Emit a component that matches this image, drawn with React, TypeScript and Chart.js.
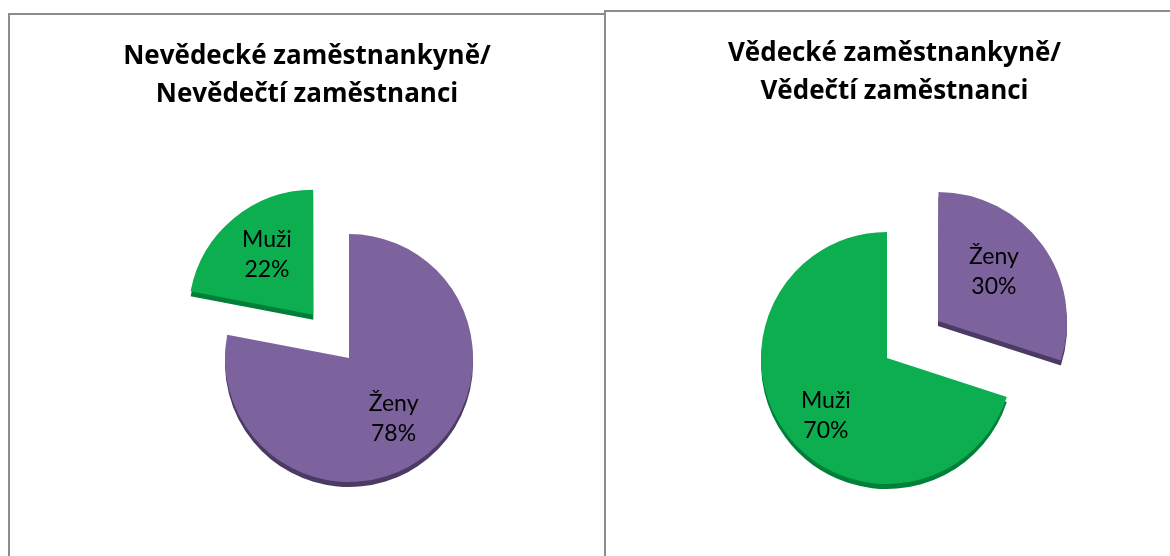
import React, { useEffect, useRef } from 'react';
import { Chart, registerables } from 'chart.js';

Chart.register(...registerables);

// ---------- data ----------
const leftTitle = ['Nevědecké zaměstnankyně/', 'Nevědečtí zaměstnanci'];
const leftCategories = ['Ženy', 'Muži'];
const leftValues = [78, 22];

const rightTitle = ['Vědecké zaměstnankyně/', 'Vědečtí zaměstnanci'];
const rightCategories = ['Ženy', 'Muži'];
const rightValues = [30, 70];

// ---------- style ----------
const TITLE_FONT = '"Open Sans", Lato, sans-serif';
const LABEL_FONT = 'Lato, "Open Sans", sans-serif';
const PURPLE = '#7D639D';
const GREEN = '#0CAE50';
const PURPLE_SIDE = '#4B3B64';
const GREEN_SIDE = '#007F38';
const BORDER = '#8C8C8C';

type Panel = {
  title: string[];
  categories: string[];
  values: number[];
  colors: string[];
  sideColors: string[];
  offsets: number[];
  labelRadii: number[];
  labelTurns: number[];
  box: { left: number; top: number };
  canvas: { left: number; top: number; width: number; height: number };
  cx: number;
  cy: number;
  r: number;
};

// Chart.js moves an exploded arc by offset / 4 pixels
const panels: Panel[] = [
  {
    title: leftTitle,
    categories: leftCategories,
    values: leftValues,
    colors: [PURPLE, GREEN],
    sideColors: [PURPLE_SIDE, GREEN_SIDE],
    offsets: [0, 224],
    labelRadii: [0.606, 0.616],
    labelTurns: [3.2, 1.3],
    box: { left: 8, top: 13 },
    canvas: { left: 10, top: 15, width: 594, height: 541 },
    cx: 339,
    cy: 343,
    r: 124,
  },
  {
    title: rightTitle,
    categories: rightCategories,
    values: rightValues,
    colors: [PURPLE, GREEN],
    sideColors: [PURPLE_SIDE, GREEN_SIDE],
    offsets: [252, 0],
    labelRadii: [0.59, 0.664],
    labelTurns: [-2.9, -7.1],
    box: { left: 604, top: 10 },
    canvas: { left: 606, top: 12, width: 577, height: 544 },
    cx: 281,
    cy: 346,
    r: 126,
  },
];

// centre the pie at (cx, cy); keep the area large enough for the offsets
const fixedAreaPlugin = {
  id: 'fixedArea',
  afterLayout(chart: any, _args: any, opts: any) {
    const { cx, cy } = opts;
    const half = 300;
    chart.chartArea = {
      left: cx - half,
      right: cx + half,
      top: cy - half,
      bottom: cy + half,
      width: 2 * half,
      height: 2 * half,
    };
  },
};

const pieSidePlugin = {
  id: 'pieSide',
  beforeDatasetsDraw(chart: any, _args: any, opts: any) {
    const ctx = chart.ctx;
    const meta = chart.getDatasetMeta(0);
    meta.data.forEach((arc: any, i: number) => {
      const ghost = Object.create(arc);
      ghost.options = {
        ...arc.options,
        backgroundColor: opts.colors[i],
        borderColor: opts.colors[i],
      };
      ctx.save();
      ctx.translate(0, opts.depth);
      ghost.draw(ctx);
      ctx.restore();
    });
  },
};

const sliceLabelPlugin = {
  id: 'sliceLabels',
  afterDatasetsDraw(chart: any, _args: any, opts: any) {
    const ctx = chart.ctx;
    const meta = chart.getDatasetMeta(0);
    const values: number[] = chart.data.datasets[0].data;
    const total = values.reduce((a, b) => a + b, 0);
    const labels: string[] = chart.data.labels;
    meta.data.forEach((arc: any, i: number) => {
      const { x, y, startAngle, endAngle, outerRadius } = arc.getProps(
        ['x', 'y', 'startAngle', 'endAngle', 'outerRadius'],
        true
      );
      const mid = (startAngle + endAngle) / 2 + (opts.turns[i] * Math.PI) / 180;
      const off = (arc.options.offset || 0) / 4;
      const d = off + opts.radii[i] * outerRadius;
      const px = x + Math.cos(mid) * d;
      const py = y + Math.sin(mid) * d;
      const pct = Math.round((values[i] / total) * 100) + '%';
      ctx.save();
      ctx.font = `${opts.size}px ${LABEL_FONT}`;
      ctx.fillStyle = '#000';
      ctx.textAlign = 'center';
      ctx.textBaseline = 'middle';
      ctx.fillText(labels[i], px, py - opts.lineHeight / 2);
      ctx.fillText(pct, px, py + opts.lineHeight / 2);
      ctx.restore();
    });
  },
};

function PieChart({ p }: { p: Panel }) {
  const ref = useRef<HTMLCanvasElement | null>(null);
  useEffect(() => {
    if (!ref.current) return;
    const chart = new Chart(ref.current, {
      type: 'pie',
      data: {
        labels: p.categories,
        datasets: [
          {
            data: p.values,
            backgroundColor: p.colors,
            borderWidth: 0,
            offset: p.offsets,
          } as any,
        ],
      },
      options: {
        responsive: false,
        animation: false,
        devicePixelRatio: 1,
        radius: p.r,
        layout: { padding: 0 },
        events: [],
        plugins: {
          legend: { display: false },
          tooltip: { enabled: false },
          title: {
            display: true,
            text: p.title,
            color: '#000',
            font: { family: TITLE_FONT, size: 26, weight: 'bold', lineHeight: 1.48 },
            padding: { top: 22, bottom: 10 },
          },
          fixedArea: { cx: p.cx, cy: p.cy },
          pieSide: { colors: p.sideColors, depth: 5 },
          sliceLabels: { radii: p.labelRadii, turns: p.labelTurns, size: 23, lineHeight: 30 },
        } as any,
      } as any,
      plugins: [fixedAreaPlugin, pieSidePlugin, sliceLabelPlugin],
    });
    return () => chart.destroy();
  }, [p]);
  return (
    <canvas
      ref={ref}
      width={p.canvas.width}
      height={p.canvas.height}
      style={{
        position: 'absolute',
        left: p.canvas.left,
        top: p.canvas.top,
        width: p.canvas.width,
        height: p.canvas.height,
        display: 'block',
      }}
    />
  );
}

export default function App() {
  return (
    <div
      style={{
        position: 'fixed',
        left: 0,
        top: 0,
        width: 1170,
        height: 556,
        overflow: 'hidden',
        background: '#fff',
      }}
    >
      {panels.map((p, i) => (
        <div
          key={'box' + i}
          style={{
            position: 'absolute',
            left: p.box.left,
            top: p.box.top,
            width: 598,
            height: 700,
            boxSizing: 'border-box',
            border: `2px solid ${BORDER}`,
          }}
        />
      ))}
      {panels.map((p, i) => (
        <PieChart key={'c' + i} p={p} />
      ))}
    </div>
  );
}
